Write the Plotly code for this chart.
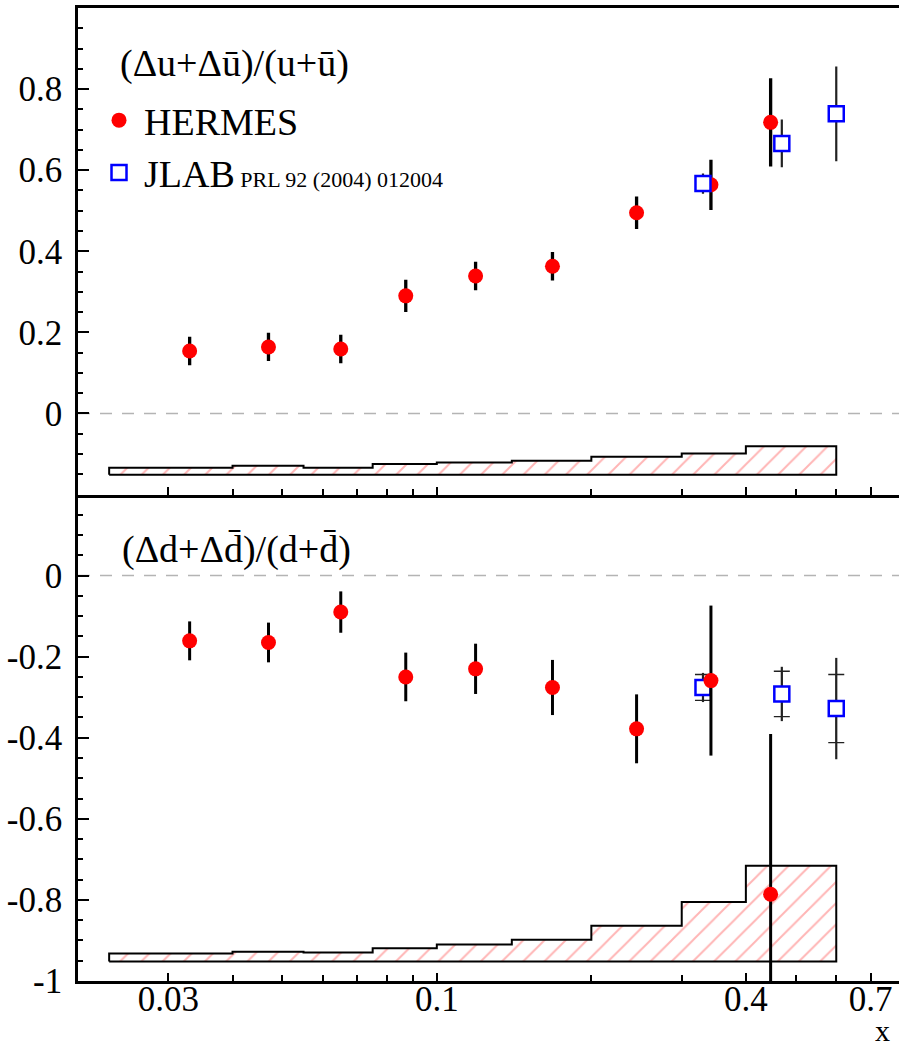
import numpy as np
import plotly.graph_objects as go

# ---------------- data ----------------
x_hermes = [0.033, 0.047, 0.065, 0.087, 0.119, 0.168, 0.245, 0.342, 0.447]
u_hermes = [0.154, 0.164, 0.159, 0.290, 0.339, 0.363, 0.495, 0.564, 0.718]
u_hermes_err = [0.035, 0.035, 0.035, 0.040, 0.035, 0.035, 0.040, 0.062, 0.109]
d_hermes = [-0.161, -0.165, -0.090, -0.250, -0.230, -0.276, -0.378, -0.259, -0.786]
d_hermes_err = [0.048, 0.049, 0.051, 0.060, 0.062, 0.068, 0.085, 0.185, 0.395]

x_jlab = [0.33, 0.47, 0.60]
u_jlab = [0.567, 0.666, 0.739]
u_jlab_err = [0.025, 0.059, 0.117]
d_jlab = [-0.276, -0.292, -0.328]
d_jlab_err_tot = [0.036, 0.067, 0.125]
d_jlab_err_stat = [0.032, 0.056, 0.084]

bin_edges = [0.023, 0.040, 0.055, 0.075, 0.10, 0.14, 0.20, 0.30, 0.40, 0.60]
u_sys_base = -0.151
u_sys_top = [-0.134, -0.129, -0.134, -0.125, -0.121, -0.117, -0.107, -0.099, -0.081]
d_sys_base = -0.952
d_sys_top = [-0.932, -0.928, -0.930, -0.919, -0.910, -0.898, -0.864, -0.805, -0.716]

x_tickvals = [0.03, 0.1, 0.4, 0.7]
x_ticktext = ["0.03", "0.1", "0.4", "0.7"]
x_minor = [0.04, 0.05, 0.06, 0.07, 0.08, 0.09, 0.2, 0.3, 0.5, 0.6]
u_tickvals = [0, 0.2, 0.4, 0.6, 0.8]
u_ticktext = ["0", "0.2", "0.4", "0.6", "0.8"]
d_tickvals = [-1, -0.8, -0.6, -0.4, -0.2, 0]
d_ticktext = ["-1", "-0.8", "-0.6", "-0.4", "-0.2", "0"]

label_u = "(Δu+Δū)/(u+ū)"
label_d = "(Δd+Δd̄)/(d+d̄)"

SERIF = "Liberation Serif"
RED = "#ff0000"
BLUE = "#0000ff"


def step_polygon(edges, tops, base):
    xs, ys = [edges[0]], [base]
    for i, h in enumerate(tops):
        xs += [edges[i], edges[i + 1]]
        ys += [h, h]
    xs += [edges[-1], edges[0]]
    ys += [base, base]
    return xs, ys


fig = go.Figure()

# systematic bands
for (tops, base, ya) in [(u_sys_top, u_sys_base, "y2"), (d_sys_top, d_sys_base, "y")]:
    xs, ys = step_polygon(bin_edges, tops, base)
    fig.add_trace(go.Scatter(
        x=xs, y=ys, xaxis="x2" if ya == "y2" else "x", yaxis=ya,
        mode="lines", fill="toself", line=dict(color="black", width=2),
        fillcolor="white",
        fillpattern=dict(shape="/", fgcolor="rgba(255,80,80,0.85)", bgcolor="white",
                         size=15, solidity=0.13),
        showlegend=False, hoverinfo="skip"))

# top panel
fig.add_trace(go.Scatter(
    x=x_hermes, y=u_hermes, xaxis="x2", yaxis="y2", mode="markers",
    marker=dict(color=RED, size=15, symbol="circle"),
    error_y=dict(type="data", array=u_hermes_err, color="black", thickness=3.3, width=0),
    name="HERMES", showlegend=True, legendrank=1))
fig.add_trace(go.Scatter(
    x=x_jlab, y=u_jlab, xaxis="x2", yaxis="y2", mode="markers",
    marker=dict(color="white", size=15, symbol="square", line=dict(color=BLUE, width=2.5)),
    error_y=dict(type="data", array=u_jlab_err, color="#222222", thickness=2.2, width=0),
    name="JLAB<span style=\"font-size:22px\"> PRL 92 (2004) 012004</span>",
    showlegend=True, legendrank=2))

# bottom panel
fig.add_trace(go.Scatter(
    x=x_jlab, y=d_jlab, xaxis="x", yaxis="y", mode="markers",
    marker=dict(color="rgba(0,0,0,0)", size=1),
    error_y=dict(type="data", array=d_jlab_err_stat, color="#222222", thickness=1.3, width=8),
    showlegend=False, hoverinfo="skip"))
fig.add_trace(go.Scatter(
    x=x_jlab, y=d_jlab, xaxis="x", yaxis="y", mode="markers",
    marker=dict(color="white", size=15, symbol="square", line=dict(color=BLUE, width=2.5)),
    error_y=dict(type="data", array=d_jlab_err_tot, color="#222222", thickness=2.2, width=0),
    showlegend=False))
fig.add_trace(go.Scatter(
    x=x_hermes, y=d_hermes, xaxis="x", yaxis="y", mode="markers",
    marker=dict(color=RED, size=15, symbol="circle"),
    error_y=dict(type="data", array=d_hermes_err, color="black", thickness=3.0, width=0),
    showlegend=False))

tickfont = dict(family=SERIF, size=35, color="black")
xcommon = dict(
    type="log", range=[np.log10(0.02), np.log10(0.795)],
    showline=True, linecolor="black", linewidth=2.5,
    ticks="inside", ticklen=8, tickwidth=1.5, tickcolor="black",
    tickvals=x_tickvals, ticktext=x_ticktext,
    minor=dict(tickvals=x_minor, ticks="inside", ticklen=6, tickwidth=1.5, tickcolor="black"),
    showgrid=False, zeroline=False, tickfont=tickfont)

ycommon = dict(
    showline=True, linecolor="black", linewidth=2.5,
    ticks="inside", ticklen=11, tickwidth=1.5, tickcolor="black",
    showgrid=False, zeroline=False, tickfont=tickfont, ticklabelstandoff=6)

u_minor = [round(v, 2) for v in np.arange(-0.15, 1.0, 0.05)]
d_minor = [round(v, 2) for v in np.arange(-0.95, 0.2, 0.05)]

fig.update_layout(
    width=899, height=1050,
    margin=dict(l=78, r=0, t=8, b=69),
    paper_bgcolor="white", plot_bgcolor="white",
    font=dict(family=SERIF),
    xaxis=dict(**xcommon, anchor="y", domain=[0, 1], ticklabelstandoff=-15),
    xaxis2=dict(**xcommon, anchor="y2", domain=[0, 1], matches="x",
                showticklabels=False, mirror=True),
    yaxis=dict(**ycommon, anchor="x", domain=[0, 0.5], range=[-1, 0.2],
               tickvals=d_tickvals, ticktext=d_ticktext,
               minor=dict(tickvals=d_minor, ticks="inside", ticklen=5, tickwidth=1.5,
                          tickcolor="black")),
    yaxis2=dict(**ycommon, anchor="x2", domain=[0.5, 1], range=[-0.2, 1.0],
                tickvals=u_tickvals, ticktext=u_ticktext,
                minor=dict(tickvals=u_minor, ticks="inside", ticklen=5, tickwidth=1.5,
                           tickcolor="black")),
    legend=dict(x=0.0195, y=0.9168, xanchor="left", yanchor="top",
                font=dict(family=SERIF, size=38, color="black"),
                itemwidth=40,
                bgcolor="rgba(0,0,0,0)", borderwidth=0, tracegroupgap=0),
    showlegend=True,
)

for ya in ["y2", "y"]:
    fig.add_shape(type="line", xref="x domain" if ya == "y" else "x2 domain",
                  x0=0, x1=1, yref=ya, y0=0, y1=0, layer="below",
                  line=dict(color="#b4b4b4", width=1.5, dash="12px,10px"))

fig.add_annotation(text=label_u, xref="paper", yref="paper", x=0.0487, y=0.9425,
                   xanchor="left", yanchor="middle", showarrow=False,
                   font=dict(family=SERIF, size=38, color="black"))
fig.add_annotation(text=label_d, xref="paper", yref="paper", x=0.051, y=0.443,
                   xanchor="left", yanchor="middle", showarrow=False,
                   font=dict(family=SERIF, size=38, color="black"))
fig.add_annotation(text="x", xref="paper", yref="paper", x=0.992, y=-0.0695,
                   xanchor="right", yanchor="bottom", showarrow=False,
                   font=dict(family=SERIF, size=30, color="black"))

fig.write_html("out.html")
